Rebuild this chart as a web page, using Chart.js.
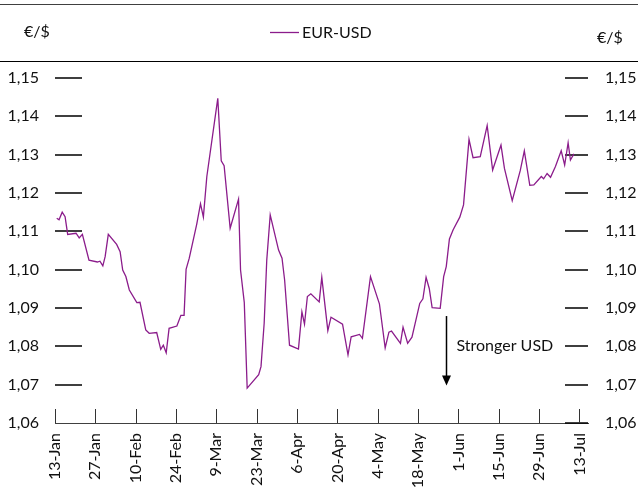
<!DOCTYPE html>
<html>
<head>
<meta charset="utf-8">
<script src="https://cdn.jsdelivr.net/npm/chart.js@4/dist/chart.umd.min.js"></script>
<style>
  html, body { margin: 0; padding: 0; background: #fff; }
</style>
</head>
<body>
<canvas id="fxChart" width="638" height="495"></canvas>
<script>
// days since 13-Jan
const days = [0.6, 1.4, 2.5, 3.5, 4.4, 7.3, 8.4, 9.5, 11.8, 14.7,
  15.6, 16.6, 17.4, 18.5, 21.4, 22.6, 23.5, 24.6, 25.8, 28.4,
  29.5, 31.5, 32.7, 35.3, 36.7, 37.6, 38.6, 39.6, 42.3, 43.7,
  44.8, 45.5, 46.6, 49.2, 50.5, 51.5, 52.7, 56.5, 57.7, 58.7,
  60.8, 63.7, 64.4, 65.7, 66.7, 70.7, 71.5, 72.6, 73.5, 74.7,
  77.6, 78.8, 79.7, 81.4, 84.5, 85.7, 86.6, 87.6, 88.8, 91.7,
  92.6, 94.7, 95.8, 99.8, 101.7, 102.8, 105.7, 106.7, 109.5, 112.6,
  114.6, 115.9, 116.8, 119.9, 120.8, 122.4, 123.9, 126.6, 127.7, 128.8,
  129.9, 130.9, 133.7, 134.9, 135.8, 136.9, 138.2, 140.5, 141.8, 143.7,
  145.1, 147.6, 150.0, 151.9, 154.8, 156.0, 158.7, 161.5, 162.9, 164.8,
  166.2, 168.8, 169.6, 170.8, 172.0, 173.7, 175.7, 176.9, 178.1, 178.9,
  180.1];

// EUR-USD
const eurUsd = [1.1134, 1.1130, 1.1150, 1.1138, 1.1092, 1.1095, 1.1083, 1.1092, 1.1025, 1.1020,
  1.1022, 1.1010, 1.1034, 1.1092, 1.1066, 1.1047, 1.0999, 1.0982, 1.0947, 1.0914,
  1.0915, 1.0843, 1.0834, 1.0836, 1.0792, 1.0803, 1.0783, 1.0847, 1.0853, 1.0881,
  1.0881, 1.1001, 1.1030, 1.1119, 1.1172, 1.1137, 1.1243, 1.1447, 1.1284, 1.1271,
  1.1108, 1.1184, 1.0999, 1.0914, 1.0691, 1.0726, 1.0747, 1.0860, 1.1025, 1.1143,
  1.1051, 1.1030, 1.0973, 1.0803, 1.0793, 1.0890, 1.0858, 1.0930, 1.0937, 1.0916,
  1.0980, 1.0841, 1.0876, 1.0858, 1.0778, 1.0825, 1.0831, 1.0821, 1.0982, 1.0911,
  1.0796, 1.0837, 1.0840, 1.0808, 1.0850, 1.0808, 1.0824, 1.0912, 1.0924, 1.0980,
  1.0951, 1.0901, 1.0899, 1.0982, 1.1008, 1.1080, 1.1104, 1.1137, 1.1169, 1.1340,
  1.1292, 1.1295, 1.1376, 1.1260, 1.1325, 1.1264, 1.1180, 1.1259, 1.1310, 1.1220,
  1.1221, 1.1243, 1.1237, 1.1251, 1.1241, 1.1269, 1.1310, 1.1273, 1.1331, 1.1286,
  1.1302];

// x tick labels, one every 14 days
const dateLabels = ["13-Jan", "27-Jan", "10-Feb", "24-Feb", "9-Mar", "23-Mar", "6-Apr",
  "20-Apr", "4-May", "18-May", "1-Jun", "15-Jun", "29-Jun", "13-Jul"];
const dateTickDays = [0, 14, 28, 42, 56, 70, 84, 98, 112, 126, 140, 154, 168, 182];

const yTickValues = [1.06, 1.07, 1.08, 1.09, 1.10, 1.11, 1.12, 1.13, 1.14, 1.15];

const seriesName = "EUR-USD";
const unitLabel = "€/$";
const noteLabel = "Stronger USD";

const lineColor = "#8b1c8b";
const textColor = "#111";
const fontSpec = { family: "Lato, 'Open Sans', sans-serif", size: 16 };

const fmt = (v) => v.toFixed(2).replace(".", ",");

// rules, legend, inner tick marks and the arrow note
const decor = {
  id: "decor",
  beforeDatasetsDraw(chart) {
    const ctx = chart.ctx;
    const area = chart.chartArea;
    const x = chart.scales.x;
    const y = chart.scales.y;
    ctx.save();

    // y tick marks inside plot
    ctx.strokeStyle = "#000";
    ctx.lineWidth = 1.5;
    yTickValues.forEach((v) => {
      const py = Math.round(y.getPixelForValue(v));
      ctx.beginPath();
      if (v > yTickValues[0]) {
        ctx.moveTo(area.left, py);
        ctx.lineTo(area.left + 27, py);
      }
      ctx.moveTo(area.right - 23, py);
      ctx.lineTo(area.right, py);
      ctx.stroke();
    });

    // x tick marks pointing up
    ctx.strokeStyle = "#333";
    ctx.lineWidth = 1;
    dateTickDays.forEach((d) => {
      const px = Math.round(x.getPixelForValue(d)) + 0.5;
      ctx.beginPath();
      ctx.moveTo(px, area.bottom - 14);
      ctx.lineTo(px, area.bottom);
      ctx.stroke();
    });
    ctx.restore();
  },
  afterDraw(chart) {
    const ctx = chart.ctx;
    const w = chart.width;
    const x = chart.scales.x;
    const y = chart.scales.y;
    ctx.save();

    // top rules
    ctx.strokeStyle = "#404040";
    ctx.lineWidth = 1;
    ctx.beginPath();
    ctx.moveTo(0, 4.5);
    ctx.lineTo(w, 4.5);
    ctx.stroke();
    ctx.strokeStyle = "#000";
    ctx.beginPath();
    ctx.moveTo(0, 61.5);
    ctx.lineTo(w, 61.5);
    ctx.stroke();

    ctx.font = fontSpec.size + "px " + fontSpec.family;
    ctx.fillStyle = textColor;
    ctx.textBaseline = "middle";
    ctx.textAlign = "left";
    ctx.fillText(unitLabel, 24, 32);
    ctx.fillText(unitLabel, 597, 38);

    // legend
    ctx.strokeStyle = lineColor;
    ctx.lineWidth = 1.3;
    ctx.beginPath();
    ctx.moveTo(270, 32.5);
    ctx.lineTo(299, 32.5);
    ctx.stroke();
    ctx.fillText(seriesName, 302, 33);

    // arrow note
    const ax = Math.round(x.getPixelForValue(135.8)) + 0.5;
    const ay1 = y.getPixelForValue(1.0879);
    const ay2 = y.getPixelForValue(1.0698);
    ctx.strokeStyle = "#000";
    ctx.lineWidth = 1.5;
    ctx.beginPath();
    ctx.moveTo(ax, ay1);
    ctx.lineTo(ax, ay2 - 8);
    ctx.stroke();
    ctx.fillStyle = "#000";
    ctx.beginPath();
    ctx.moveTo(ax - 4.5, ay2 - 10);
    ctx.lineTo(ax + 4.5, ay2 - 10);
    ctx.lineTo(ax, ay2);
    ctx.closePath();
    ctx.fill();
    ctx.fillStyle = textColor;
    ctx.fillText(noteLabel, ax + 10, y.getPixelForValue(1.08));
    ctx.restore();
  },
};

const ctx = document.getElementById("fxChart").getContext("2d");

new Chart(ctx, {
  type: "line",
  data: {
    datasets: [
      {
        label: seriesName,
        data: days.map((d, i) => ({ x: d, y: eurUsd[i] })),
        borderColor: lineColor,
        borderWidth: 1.3,
        pointRadius: 0,
        tension: 0,
        fill: false,
      },
    ],
  },
  options: {
    responsive: false,
    animation: false,
    layout: { padding: { top: 78, left: 0, right: 0, bottom: 0 } },
    plugins: {
      legend: { display: false },
      tooltip: { enabled: false },
    },
    scales: {
      x: {
        type: "linear",
        min: 0,
        max: 185,
        grid: { display: false, drawTicks: false },
        border: { display: true, color: "#404040", width: 1 },
        afterBuildTicks: (s) => {
          s.ticks = dateTickDays.map((d) => ({ value: d }));
        },
        afterFit: (s) => {
          s.height = 72;
        },
        ticks: {
          autoSkip: false,
          minRotation: 90,
          maxRotation: 90,
          padding: 10,
          color: textColor,
          font: fontSpec,
          callback: (v) => dateLabels[dateTickDays.indexOf(v)] ?? "",
        },
      },
      y: {
        type: "linear",
        position: "left",
        min: 1.06,
        max: 1.15,
        grid: { display: false, drawTicks: false },
        border: { display: false },
        afterBuildTicks: (s) => {
          s.ticks = yTickValues.map((v) => ({ value: v }));
        },
        afterFit: (s) => {
          s.width = 55;
        },
        ticks: { padding: 16, color: textColor, font: fontSpec, callback: fmt },
      },
      y2: {
        type: "linear",
        position: "right",
        min: 1.06,
        max: 1.15,
        grid: { display: false, drawTicks: false },
        border: { display: false },
        afterBuildTicks: (s) => {
          s.ticks = yTickValues.map((v) => ({ value: v }));
        },
        afterFit: (s) => {
          s.width = 50;
        },
        ticks: { padding: 17, color: textColor, font: fontSpec, callback: fmt },
      },
    },
  },
  plugins: [decor],
});
</script>
</body>
</html>
